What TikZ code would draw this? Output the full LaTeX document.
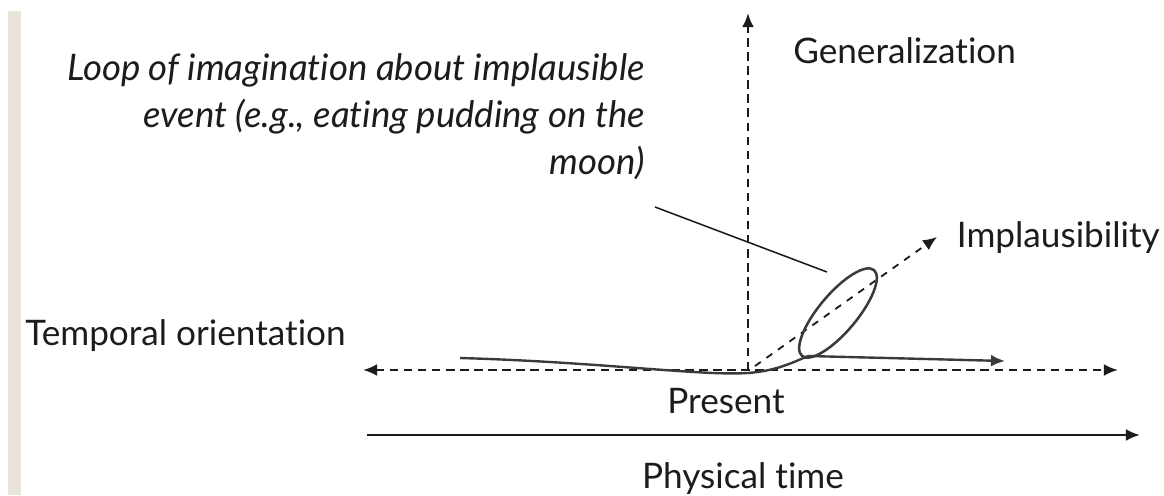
\documentclass[tikz,border=0pt]{standalone}
\usepackage{fontspec}
\setmainfont[Ligatures={NoCommon}]{Lato}
\usetikzlibrary{arrows.meta,positioning}
\definecolor{LoopInk}{HTML}{1C1C1C}
\definecolor{LoopGrey}{HTML}{3A3A3A}
\definecolor{LoopBar}{HTML}{E8E4DA}

\begin{document}
\begin{tikzpicture}[
  x=0.025cm,y=-0.025cm,
  label/.style={font=\fontsize{25}{29}\selectfont,text=LoopInk,inner sep=0pt},
  note/.style={font=\fontsize{26}{33.4}\selectfont\itshape,text=LoopInk,align=right,inner sep=0pt},
  axis/.style={draw=LoopInk,line width=1.8pt,dash pattern=on 6pt off 4pt},
  tip/.style={-{Latex[length=10pt,width=8.5pt]}},
  loopline/.style={draw=LoopGrey,line width=1.7pt},
  leader/.style={draw=LoopInk,line width=1.1pt}
]
\useasboundingbox (0,0) rectangle (1164,495);
\fill[LoopBar] (8,11) rectangle (21,495);

% axes
\coordinate (origin) at (748,370);
\coordinate (tleft) at (363,370);
\coordinate (tright) at (1118,370);
\coordinate (gtop) at (748,13);
\coordinate (ibase) at (755,366);
\coordinate (itop) at (937,237);
\coordinate (pleft) at (367,435);
\coordinate (pright) at (1140,435);
\draw[axis,{Latex[length=10pt,width=8.5pt]}-{Latex[length=10pt,width=8.5pt]}] (tleft) -- (tright);
\draw[axis,tip] (origin) -- (gtop);
\draw[axis,tip,line width=1.3pt,dash pattern=on 5pt off 5pt] (ibase) -- (itop);
\draw[draw=LoopInk,line width=1.8pt,tip] (pleft) -- (pright);

% loop of imagination
\coordinate (lstart) at (460,358);
\coordinate (lfoot) at (808,356);
\coordinate (lend) at (1005,361);
\coordinate (lcentre) at (838,313);
\draw[loopline] (lstart) .. controls (600,362) and (700,376) .. (748,373)
  .. controls (775,371) and (792,363) .. (lfoot);
\draw[loopline,line width=1.8pt,rotate around={50:(lcentre)}] (lcentre) ellipse [x radius=56, y radius=19];
\draw[loopline,tip] (lfoot) -- (lend);

% labels
\node[label,anchor=base west] (gen) at (793,63) {Generalization};
\node[label,anchor=base east] (impl) at (1160,247) {Implausibility};
\node[label,anchor=base west] (temporal) at (25,345) {Temporal orientation};
\node[label,anchor=base] (present) at (726,413) {Present};
\node[label,anchor=base] (physical) at (743,488) {Physical time};
\node[note,anchor=north east] (event) at (645,53) {Loop of imagination about implausible\\event (e.g., eating pudding on the\\moon)};
\coordinate (lead) at (655,207);
\coordinate (pointer) at (827,272);
\draw[leader] (lead) -- (pointer);
\end{tikzpicture}
\end{document}
